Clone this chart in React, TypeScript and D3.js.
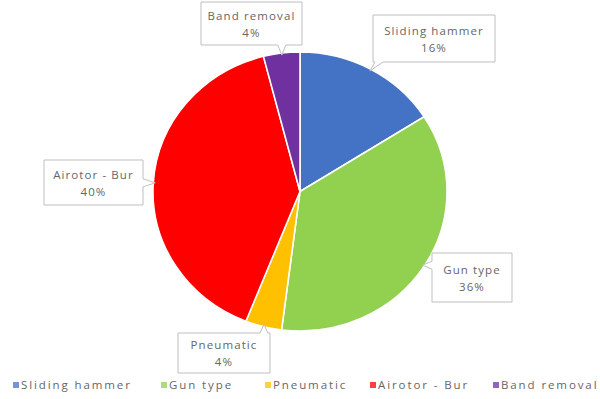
import React from "react";
import * as d3 from "d3";

const categories = ["Sliding hammer", "Gun type", "Pneumatic", "Airotor - Bur", "Band removal"];
const values = [16, 36, 4, 40, 4];
const colors = ["#4472C4", "#92D050", "#FFC000", "#FF0000", "#7030A0"];
const labelTexts = ["16%", "36%", "4%", "40%", "4%"];

// label box layout (x, y, w, h)
const labelBoxes = [
  [373, 15, 122, 47],
  [432, 253, 80, 49],
  [178, 333, 92, 40],
  [44, 160, 99, 45],
  [201, 2, 101, 43],
];
const legendX = [13, 161, 265, 370, 493];

const W = 600, H = 399;
const cx = 300, cy = 191.5, rx = 147, ry = 139.5;

function calloutPath(x: number, y: number, w: number, h: number, ax: number, ay: number) {
  const out = {
    left: x - ax,
    right: ax - (x + w),
    top: y - ay,
    bottom: ay - (y + h),
  };
  const side = (Object.keys(out) as (keyof typeof out)[]).reduce((a, b) => (out[b] > out[a] ? b : a), "left");
  const hw = 4;
  if (side === "bottom") {
    const bx = Math.max(x + 6, Math.min(x + w - 6, ax));
    return `M${x},${y}H${x + w}V${y + h}H${bx + hw}L${ax},${ay}L${bx - hw},${y + h}H${x}Z`;
  }
  if (side === "top") {
    const bx = Math.max(x + 6, Math.min(x + w - 6, ax));
    return `M${x},${y}H${bx - hw}L${ax},${ay}L${bx + hw},${y}H${x + w}V${y + h}H${x}Z`;
  }
  if (side === "left") {
    const by = Math.max(y + 6, Math.min(y + h - 6, ay));
    return `M${x},${y}H${x + w}V${y + h}H${x}V${by + hw}L${ax},${ay}L${x},${by - hw}Z`;
  }
  const by = Math.max(y + 6, Math.min(y + h - 6, ay));
  return `M${x},${y}H${x + w}V${by - hw}L${ax},${ay}L${x + w},${by + hw}V${y + h}H${x}Z`;
}

export default function App() {
  const pie = d3.pie<number>().sort(null).value((d) => d)(values);
  const arc = d3.arc<d3.PieArcDatum<number>>().innerRadius(0).outerRadius(ry);
  const font = "'Open Sans', 'DejaVu Sans', sans-serif";
  return (
    <svg width={W} height={H} style={{ position: "absolute", left: 0, top: 0, background: "#fff" }}>
      <rect x={0} y={0} width={W} height={H} fill="#fff" />
      <g transform={`translate(${cx},${cy}) scale(${rx / ry},1)`}>
        {pie.map((p, i) => (
          <path key={i} d={arc(p) || ""} fill={colors[i]} stroke="#fff" strokeWidth={1.5} />
        ))}
      </g>
      {pie.map((p, i) => {
        const a = (p.startAngle + p.endAngle) / 2;
        const ax = cx + (rx - 2) * Math.sin(a);
        const ay = cy - (ry - 2) * Math.cos(a);
        const [x, y, w, h] = labelBoxes[i];
        return (
          <g key={i}>
            <path d={calloutPath(x, y, w, h, ax, ay)} fill="#fff" stroke="#bfbfbf" strokeWidth={1} />
            <text x={x + w / 2} y={y + h / 2 - 4} textAnchor="middle" fontFamily={font} fontSize={11.5} letterSpacing={1.1} fill="#666">
              {categories[i]}
            </text>
            <text x={x + w / 2} y={y + h / 2 + 13} textAnchor="middle" fontFamily={font} fontSize={11.5} letterSpacing={1.1} fill="#666">
              {labelTexts[i]}
            </text>
          </g>
        );
      })}
      {categories.map((c, i) => (
        <g key={c}>
          <rect x={legendX[i]} y={382} width={6} height={6} fill={colors[i]} opacity={0.75} />
          <text x={legendX[i] + 8} y={389} fontFamily={font} fontSize={11.5} letterSpacing={1.9} fill="#666">
            {c}
          </text>
        </g>
      ))}
    </svg>
  );
}
